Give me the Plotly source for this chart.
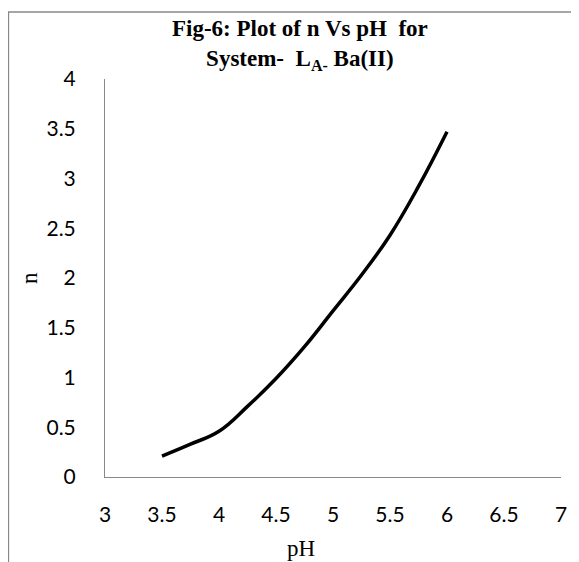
import plotly.graph_objects as go

# Data
ph = [3.5, 3.75, 4.0, 4.25, 4.5, 4.75, 5.0, 5.25, 5.5, 5.75, 6.0]
n_values = [0.21, 0.33, 0.46, 0.71, 0.99, 1.31, 1.67, 2.03, 2.43, 2.92, 3.47]

x_ticks = [3, 3.5, 4, 4.5, 5, 5.5, 6, 6.5, 7]
y_ticks = [0, 0.5, 1, 1.5, 2, 2.5, 3, 3.5, 4]

title_text = "<b>Fig-6: Plot of n Vs pH  for<br>System-  L<sub>A-</sub> Ba(II)</b>"
x_title = "pH"
y_title = "n"

# The page body has an 8px margin, so the figure is drawn 8px in from the window edge.
OFF = 8
W, H = 579 - OFF, 562 - OFF
L, R, T, B = 105 - OFF, 18, 79 - OFF, 85
pw = W - L - R
ph_ = H - T - B


def px_x(px):
    # px in window pixels
    return (px - OFF - L) / pw


def px_y(py):
    return (H - B - (py - OFF)) / ph_


fig = go.Figure()
fig.add_trace(go.Scatter(
    x=ph, y=n_values, mode="lines",
    line=dict(color="black", width=3.5, shape="spline", smoothing=1.2),
    showlegend=False, hoverinfo="skip",
))

gray = "#888888"
fig.update_layout(
    width=W, height=H,
    margin=dict(l=L, r=R, t=T, b=B),
    paper_bgcolor="white", plot_bgcolor="white",
    showlegend=False,
    xaxis=dict(
        range=[3, 7], tickvals=x_ticks, ticktext=[f"{v:g}" for v in x_ticks],
        showgrid=False, zeroline=False, showline=True, linecolor=gray, linewidth=1,
        ticks="", tickfont=dict(family="Lato", size=21, color="black"),
        ticklabelstandoff=19, fixedrange=True,
    ),
    yaxis=dict(
        range=[0, 4], tickvals=y_ticks, ticktext=[f"{v:g}" for v in y_ticks],
        showgrid=False, zeroline=False, showline=True, linecolor=gray, linewidth=1,
        ticks="", tickfont=dict(family="Lato", size=21, color="black"),
        ticklabelstandoff=24, fixedrange=True,
    ),
    annotations=[
        dict(text=title_text, xref="paper", yref="paper",
             x=px_x(300), y=px_y(14), xanchor="center", yanchor="top",
             showarrow=False, align="center",
             font=dict(family="Liberation Serif", size=23, color="black")),
        dict(text=x_title, xref="paper", yref="paper",
             x=px_x(301), y=px_y(563), xanchor="center", yanchor="bottom",
             showarrow=False, font=dict(family="Liberation Serif", size=23, color="black")),
        dict(text=y_title, xref="paper", yref="paper",
             x=px_x(29), y=px_y(278), xanchor="center", yanchor="middle",
             textangle=-90, showarrow=False,
             font=dict(family="Liberation Serif", size=23, color="black")),
    ],
    shapes=[
        dict(type="line", xref="paper", yref="paper",
             x0=px_x(8), x1=px_x(600), y0=px_y(12), y1=px_y(12),
             line=dict(color=gray, width=1.3)),
        dict(type="line", xref="paper", yref="paper",
             x0=px_x(8.5), x1=px_x(8.5), y0=px_y(12), y1=px_y(600),
             line=dict(color=gray, width=1.3)),
    ],
)

fig.write_html("out.html")
